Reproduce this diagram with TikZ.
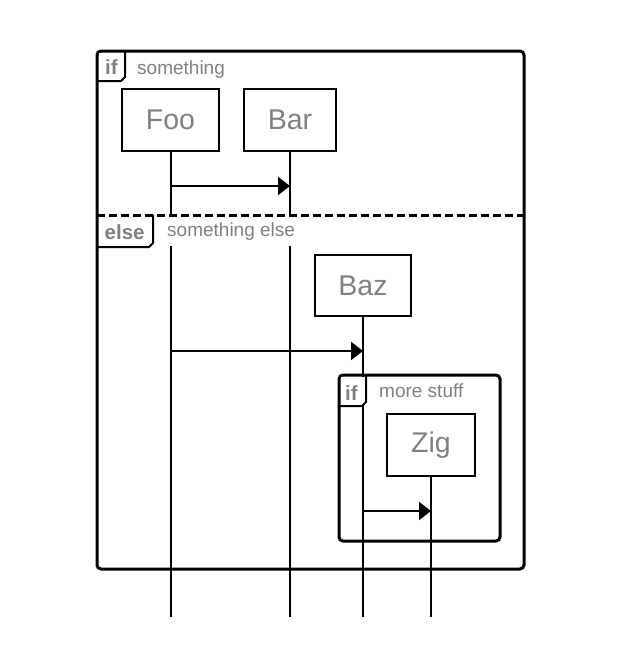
\documentclass[tikz,border=0pt]{standalone}
\usepackage{fontspec}
\setmainfont{Liberation Sans}
\usetikzlibrary{arrows.meta}
\definecolor{txtgray}{RGB}{128,128,128}
\begin{document}
\begin{tikzpicture}[x=1pt,y=-1pt,
  actor/.style={draw=black,line width=2pt,fill=white,text=txtgray,font=\fontsize{28.5}{30}\selectfont,inner sep=0pt},
  lifeline/.style={line width=2pt},
  msg/.style={line width=2pt,-{Triangle[length=12pt,width=18pt]}},
  frameline/.style={line width=3pt,rounded corners=4pt},
  tabline/.style={line width=2pt},
  kw/.style={text=txtgray,font=\fontsize{20.5}{22}\selectfont\bfseries,inner sep=0pt,anchor=base west},
  cond/.style={text=txtgray,font=\fontsize{19}{21}\selectfont,inner sep=0pt,anchor=base west}]
\useasboundingbox (0,0) rectangle (622,646);
% frames
\draw[frameline] (97,51) rectangle (524,569);
\draw[line width=3pt,dash pattern=on 8pt off 4pt] (97,215) -- (524,215);
\draw[frameline] (339,375) rectangle (500,541);
% actors
\node[actor,minimum width=97pt,minimum height=62pt] (foo) at (170.5,120) {Foo};
\node[actor,minimum width=92pt,minimum height=62pt] (bar) at (290,120) {Bar};
\node[actor,minimum width=96pt,minimum height=61pt] (baz) at (363,285.5) {Baz};
\node[actor,minimum width=88pt,minimum height=62pt] (zig) at (431,445) {Zig};
\coordinate (fooend) at (foo.south |- 0,617);
\coordinate (barend) at (bar.south |- 0,617);
\coordinate (bazend) at (baz.south |- 0,617);
\coordinate (zigend) at (zig.south |- 0,617);
% lifelines
\draw[lifeline] (foo.south) -- (fooend);
\draw[lifeline] (bar.south) -- (barend);
\draw[lifeline] (baz.south) -- (bazend);
\draw[lifeline] (zig.south) -- (zigend);
% tabs
\fill[white] (98.5,52.5) rectangle (125,80);
\draw[tabline] (97,81) -- (121,81) -- (125,77) -- (125,51);
\node[kw] (if1) at (105,74) {if};
\node[cond] (c1) at (137,74) {something};
\fill[white] (98.5,216.5) rectangle (153,246);
\draw[tabline] (97,247) -- (149,247) -- (153,243) -- (153,215);
\node[kw] (else) at (104.5,239) {else};
\node[cond,fill=white,anchor=west,inner xsep=4pt,minimum height=29pt] (c2) at (163,231.5) {something else};
\fill[white] (340.5,376.5) rectangle (366,405);
\draw[tabline] (339,406) -- (362,406) -- (366,402) -- (366,375);
\node[kw] (if2) at (345,400) {if};
\node[cond] (c3) at (379,397) {more stuff};
% messages
\draw[msg] (foo.south |- 0,186) -- (bar.south |- 0,186);
\draw[msg] (foo.south |- 0,351) -- (baz.south |- 0,351);
\draw[msg] (baz.south |- 0,511) -- (zig.south |- 0,511);
\end{tikzpicture}
\end{document}
